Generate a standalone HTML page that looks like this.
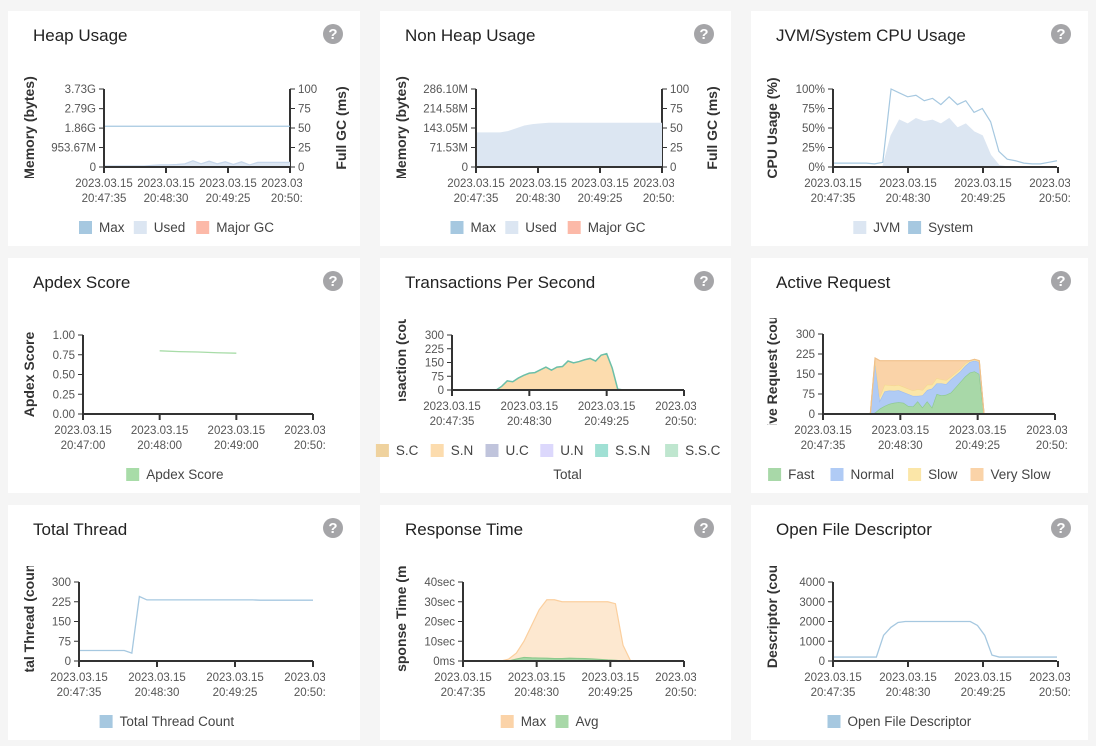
<!DOCTYPE html>
<html><head><meta charset="utf-8"><style>
body{margin:0;background:#f5f5f5;font-family:"Liberation Sans",sans-serif}
svg{display:block}
</style></head><body>
<svg id="s" width="1096" height="746" xmlns="http://www.w3.org/2000/svg"></svg>
<script>
// ---- data ----
const heapMax=[1.95,1.95,1.95,1.95,1.95,1.95,1.95,1.95,1.95,1.95,1.95,1.95,1.95,1.95,1.95,1.95,1.95,1.95,1.95,1.95,1.95,1.95,1.95,1.95];
const heapUsed=[0.05,0.05,0.05,0.05,0.05,0.05,0.08,0.1,0.1,0.12,0.15,0.3,0.15,0.28,0.15,0.25,0.12,0.25,0.1,0.22,0.22,0.22,0.22,0.22];
const nonHeapUsed=[125,125,125,125,130,140,150,155,158,160,160,160,160,160,160,160,160,160,160,160,160,160,160,160];
const cpuSystem=[5,5,5,5,5,4,6,100,95,90,92,85,88,80,90,80,85,70,75,58,20,10,8,5,4,4,6,8];
const cpuJvm=[0,0,0,0,0,0,0,40,60,55,62,58,60,55,62,50,55,45,40,15,2,0,0,0,0,0,0,0];
const apdex=[null,null,null,null,0.8,0.79,0.785,0.775,0.77,null,null,null,null];
const tpsSN=[0,0,0,0,0,0,0,0,0,20,50,45,65,80,92,95,110,125,108,125,128,158,148,155,165,172,158,190,198,120,5,0,0,0,0,0,0,0,0,0,0,0,0];
const arFast=[0,0,0,0,0,0,0,0,0,0,0,5,20,30,38,42,44,42,30,28,48,25,48,25,75,70,72,80,100,120,140,155,160,150,0,0,0,0,0,0,0,0,0,0,0,0,0,0,0,0];
const arNormal=[0,0,0,0,0,0,0,0,0,0,0,195,30,55,50,45,45,40,45,40,20,45,42,70,40,45,40,50,45,40,40,40,40,45,0,0,0,0,0,0,0,0,0,0,0,0,0,0,0,0];
const arSlow=[0,0,0,0,0,0,0,0,0,0,0,5,15,25,20,20,20,20,20,20,25,20,20,15,20,15,15,10,10,10,10,5,5,5,0,0,0,0,0,0,0,0,0,0,0,0,0,0,0,0];
const arVerySlow=[0,0,0,0,0,0,0,0,0,0,0,5,135,90,92,93,91,98,105,112,107,110,90,90,65,70,73,60,45,30,10,0,0,0,0,0,0,0,0,0,0,0,0,0,0,0,0,0,0,0];
const threads=[40,40,40,40,40,40,40,30,245,232,232,232,232,232,232,232,232,232,232,232,232,232,232,232,231,231,231,231,231,231,231,231];
const rtMax=[0,0,0,0,0,0,1,4,10,18,26,31,31,30,30,30,30,30,30,30,29,8,0,0,0,0,0,0,0,0];
const rtAvg=[0,0,0,0,0,0,0,1,1.8,1.6,1.5,1.4,1.2,1.2,1.4,1.3,1.2,1,0.8,0.5,0.3,0,0,0,0,0,0,0,0,0];
const ofd=[200,200,200,200,200,200,200,1300,1700,1950,2000,2000,2000,2000,2000,2000,2000,2000,2000,2000,1800,1300,300,200,200,200,200,200,200,200,200,200];
const xTicks5=["20:47:35","20:48:30","20:49:25","20:50:2"];
const xTicksA=["20:47:00","20:48:00","20:49:00","20:50:0"];

const S=document.getElementById('s');const NS='http://www.w3.org/2000/svg';
function el(t,a,p){const e=document.createElementNS(NS,t);for(const k in a)e.setAttribute(k,a[k]);(p||S).appendChild(e);return e;}
function txt(x,y,s,a,p){const e=el('text',Object.assign({x,y},a),p);e.textContent=s;return e;}

const panels=[
{x:8,y:11,w:352,t:'Heap Usage'},{x:380,y:11,w:351,t:'Non Heap Usage'},{x:751,y:11,w:337,t:'JVM/System CPU Usage'},
{x:8,y:258,w:352,t:'Apdex Score'},{x:380,y:258,w:351,t:'Transactions Per Second'},{x:751,y:258,w:337,t:'Active Request'},
{x:8,y:505,w:352,t:'Total Thread'},{x:380,y:505,w:351,t:'Response Time'},{x:751,y:505,w:337,t:'Open File Descriptor'}];
const groups=[];
panels.forEach((p,i)=>{
  const g=el('g',{});
  
  
  el('rect',{x:p.x,y:p.y,width:p.w,height:235,fill:'#fff'},g);
  const t=txt(p.x+25,p.y+30,p.t,{'font-size':17,fill:'#222'},g);
  
  
  const h=el('g',{},g);
  
  
  el('circle',{cx:p.x+p.w-27,cy:p.y+23,r:10,fill:'#a5a5a8'},h);
  txt(p.x+p.w-27,p.y+28,'?',{'font-size':15,'font-weight':'bold',fill:'#fff','text-anchor':'middle'},h);
  groups.push({g,cg:g,p});
});

let clipN=0;
function clipG(g,x,y,w,h){const id='k'+(clipN++);const cp=el('clipPath',{id},g);el('rect',{x,y,width:w,height:h},cp);return el('g',{'clip-path':'url(#'+id+')'},g);}

function chart(o){
  const {g,p}=groups[o.i];const cg=g;
  const X0=o.x0,X1=o.x1,Y0=o.y0,Y1=o.y1;
  const ys=v=>Y1-(v-o.ymin)/(o.ymax-o.ymin)*(Y1-Y0);
  o.yt.forEach((v,k)=>{const yy=ys(o.ytv[k]);el('line',{x1:X0-5,x2:X0,y1:yy,y2:yy,stroke:'#333'},cg);
    txt(X0-8,yy+4,v,{'font-size':11.5,fill:'#555','text-anchor':'end'},cg);});
  if(o.rt){o.rt.forEach((v,k)=>{const yy=Y1-k/(o.rt.length-1)*(Y1-Y0);el('line',{x1:X1,x2:X1+5,y1:yy,y2:yy,stroke:'#333'},cg);
    txt(X1+8,yy+4,v,{'font-size':11.5,fill:'#555'},cg);});
    el('line',{x1:X1,x2:X1,y1:Y0,y2:Y1,stroke:'#333','stroke-width':2},cg);
    const rl=txt(0,0,'Full GC (ms)',{'font-size':14,'font-weight':'bold',fill:'#333','text-anchor':'middle',transform:`translate(${p.x+p.w-14},${(Y0+Y1)/2}) rotate(-90)`},cg);
    
    }
  const lc=clipG(g,p.x,Y0-16,60,Y1-Y0+27);
  const yl=txt(0,0,o.yl,{'font-size':14,'font-weight':'bold',fill:'#333','text-anchor':'middle',transform:`translate(${p.x+26},${(Y0+Y1)/2}) rotate(-90)`},lc);
  
  
  const base=[];
  o.series.forEach(s=>{
    const n=s.v.length;const xs=k=>X0+k/(n-1)*(X1-X0);
    if(s.type==='line'){let d='';s.v.forEach((v,k)=>{if(v==null)return;d+=(d?'L':'M')+xs(k)+','+ys(v);});
      const e=el('path',{d,fill:'none',stroke:s.stroke,'stroke-width':1.3},cg);
      
      return;}
    const b=s.stack?base.slice():new Array(n).fill(0);
    const top=s.v.map((v,k)=>(s.stack?(b[k]||0):0)+v);
    let d='M'+xs(0)+','+ys(top[0]);for(let k=1;k<n;k++)d+='L'+xs(k)+','+ys(top[k]);
    for(let k=n-1;k>=0;k--)d+='L'+xs(k)+','+ys(s.stack?(b[k]||0):0);
    const e=el('path',{d:d+'Z',fill:s.fill,stroke:'none'},cg);
    
    
    let dl='M'+xs(0)+','+ys(top[0]);for(let k=1;k<n;k++)dl+='L'+xs(k)+','+ys(top[k]);
    el('path',{d:dl,fill:'none',stroke:s.stroke,'stroke-width':s.sw||1.2},cg);
    if(s.stack)top.forEach((v,k)=>base[k]=v);
  });
  el('line',{x1:X0,x2:X0,y1:Y0,y2:Y1,stroke:'#333','stroke-width':2},cg);
  el('line',{x1:X0,x2:X1,y1:Y1,y2:Y1,stroke:'#333','stroke-width':2},cg);
  const tc=clipG(g,p.x,Y1-2,o.xtEnd+12-p.x,45);
  const tk=o.xt||xTicks5;
  tk.forEach((l,k)=>{const xx=X0+k/3*(o.xtEnd-X0);el('line',{x1:xx,x2:xx,y1:Y1,y2:Y1+6,stroke:'#333','stroke-width':2},tc);
    txt(xx,Y1+20,'2023.03.15',{'font-size':11.5,fill:'#555','text-anchor':'middle'},tc);
    txt(xx,Y1+35,l,{'font-size':11.5,fill:'#555','text-anchor':'middle'},tc);});
  let lw=o.leg.reduce((a,l)=>a+22+l[0].length*7.6+10,0);let lx=p.x+p.w/2-lw/2+(o.legOff||0);
  o.leg.forEach(l=>{const lg=el('g',{},g);
    
    
    el('rect',{x:lx,y:o.ly-11,width:13,height:13,fill:l[1]},lg);
    txt(lx+20,o.ly,l[0],{'font-size':13.5,fill:'#444'},lg);lx+=22+l[0].length*7.6+10;});
  if(o.sub)txt(p.x+p.w/2+12,o.ly+24,o.sub,{'font-size':13.5,fill:'#444','text-anchor':'middle'},g);
}
const gT=['3.73G','2.79G','1.86G','953.67M','0'];
chart({i:0,x0:104,x1:290,xtEnd:290,y0:89,y1:167,ymin:0,ymax:3.73,yt:gT,ytv:[3.73,2.79,1.86,0.9313,0],rt:['0','25','50','75','100'],yl:'Memory (bytes)',ly:232,
 series:[{v:heapUsed,fill:'#dce6f2',stroke:'#c6d6ea'},{v:heapMax,type:'line',stroke:'#a6c8e0'}],leg:[['Max','#a6c8e0'],['Used','#dce6f2'],['Major GC','#fcb9a8']]});
chart({i:1,x0:476,x1:662,xtEnd:662,y0:89,y1:167,ymin:0,ymax:286.1,yt:['286.10M','214.58M','143.05M','71.53M','0'],ytv:[286.1,214.58,143.05,71.53,0],rt:['0','25','50','75','100'],yl:'Memory (bytes)',ly:232,
 series:[{v:nonHeapUsed,fill:'#dce6f2',stroke:'#dce6f2'}],leg:[['Max','#a6c8e0'],['Used','#dce6f2'],['Major GC','#fcb9a8']]});
chart({i:2,x0:833,x1:1057,xtEnd:1058,y0:89,y1:167,ymin:0,ymax:100,yt:['100%','75%','50%','25%','0%'],ytv:[100,75,50,25,0],yl:'CPU Usage (%)',ly:232,
 series:[{v:cpuSystem,fill:'#fff',stroke:'#a6c8e0'},{v:cpuJvm,fill:'#dce6f2',stroke:'#dce6f2'}],leg:[['JVM','#dce6f2'],['System','#a6c8e0']]});
chart({i:3,x0:83,x1:313,xtEnd:313,y0:335,y1:414,ymin:0,ymax:1,yt:['1.00','0.75','0.50','0.25','0.00'],ytv:[1,0.75,0.5,0.25,0],yl:'Apdex Score',ly:479,xt:xTicksA,
 series:[{v:apdex,type:'line',stroke:'#a8dca8'}],leg:[['Apdex Score','#a8dca8']]});
chart({i:4,x0:452,x1:684,xtEnd:684,y0:335,y1:390,ymin:0,ymax:300,yt:['300','225','150','75','0'],ytv:[300,225,150,75,0],yl:'Transaction (count)',ly:455,sub:'Total',
 series:[{v:tpsSN,fill:'#fcdcae',stroke:'#6cbfa8',sw:1.5}],leg:[['S.C','#efd29e'],['S.N','#fcdcae'],['U.C','#c0c4dc'],['U.N','#dcd8fc'],['S.S.N','#a0e0d4'],['S.S.C','#bfe6cf']]});
chart({i:5,x0:823,x1:1055,xtEnd:1055,y0:334,y1:414,ymin:0,ymax:300,yt:['300','225','150','75','0'],ytv:[300,225,150,75,0],yl:'Active Request (count)',ly:479,
 series:[{v:arFast,stack:1,fill:'#a8d8a8',stroke:'#8cc98c'},{v:arNormal,stack:1,fill:'#b0cbf5',stroke:'#9ebdf0'},{v:arSlow,stack:1,fill:'#fbe6a8',stroke:'#f5d890'},{v:arVerySlow,stack:1,fill:'#fad3a8',stroke:'#f0c08a'}],
 leg:[['Fast','#a8d8a8'],['Normal','#b0cbf5'],['Slow','#fbe6a8'],['Very Slow','#fad3a8']]});
chart({i:6,x0:79,x1:313,xtEnd:313,y0:582,y1:661,ymin:0,ymax:300,yt:['300','225','150','75','0'],ytv:[300,225,150,75,0],yl:'Total Thread (count)',ly:726,
 series:[{v:threads,type:'line',stroke:'#a6c8e0'}],leg:[['Total Thread Count','#a6c8e0']]});
chart({i:7,x0:463,x1:684,xtEnd:684,y0:582,y1:661,ymin:0,ymax:40,yt:['40sec','30sec','20sec','10sec','0ms'],ytv:[40,30,20,10,0],yl:'Response Time (ms)',ly:726,
 series:[{v:rtMax,fill:'#fde8d0',stroke:'#fbcf9e'},{v:rtAvg,fill:'#a8d8a8',stroke:'#8cc98c'}],leg:[['Max','#fbd3a8'],['Avg','#a8d8a8']]});
chart({i:8,x0:833,x1:1057,xtEnd:1058,y0:582,y1:661,ymin:0,ymax:4000,yt:['4000','3000','2000','1000','0'],ytv:[4000,3000,2000,1000,0],yl:'File Descriptor (count)',ly:726,
 series:[{v:ofd,type:'line',stroke:'#a6c8e0'}],leg:[['Open File Descriptor','#a6c8e0']]});
</script>
</body></html>
